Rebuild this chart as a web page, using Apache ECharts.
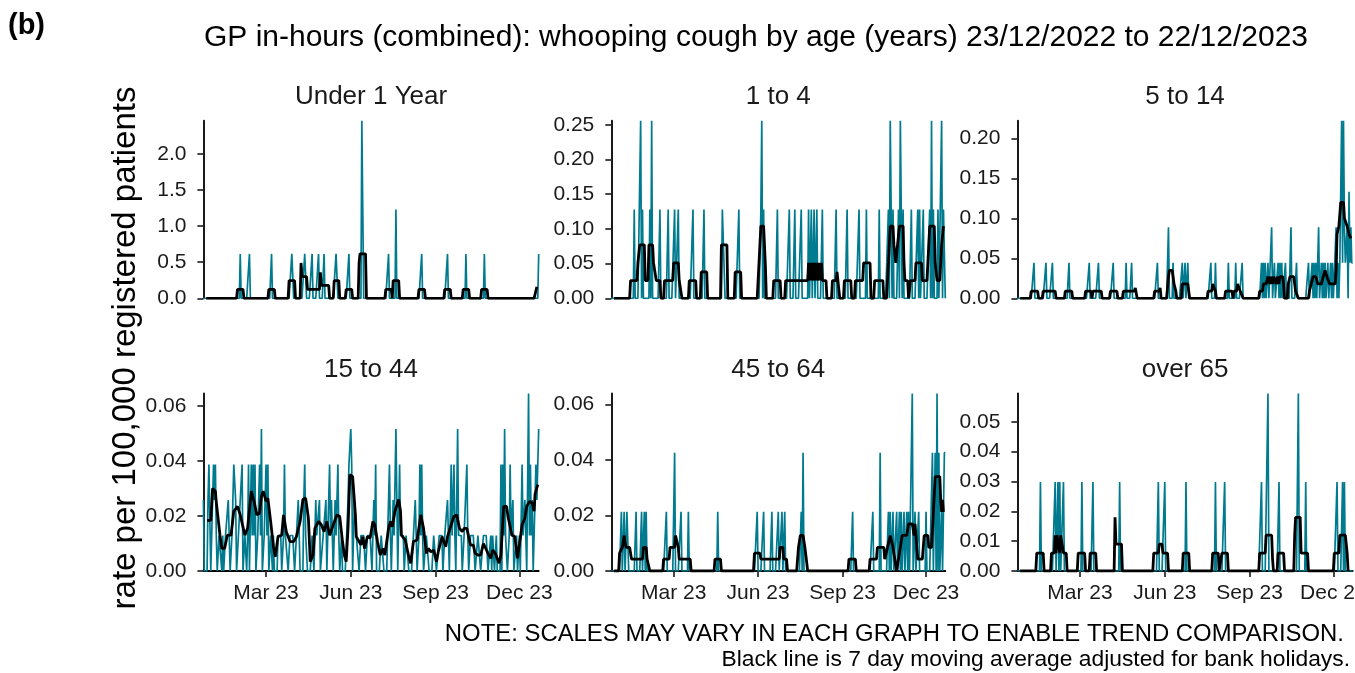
<!DOCTYPE html>
<html>
<head>
<meta charset="utf-8">
<script src="https://cdn.jsdelivr.net/npm/echarts@6/dist/echarts.min.js"></script>
<style>
  html, body { margin: 0; padding: 0; background: #ffffff; }
  #chart { width: 1355px; height: 673px; }
</style>
</head>
<body>
<div id="chart"></div>
<script>
// GP in-hours whooping cough consultations, rate per 100,000 registered patients.
// Day 0 = 23/12/2022, day 364 = 22/12/2023.
// Daily rates: only days with a non-zero rate are listed, as [day, rate].
// Moving averages: [day, rate] vertices of the 7 day average line.

const panelTitles = ['Under 1 Year', '1 to 4', '5 to 14', '15 to 44', '45 to 64', 'over 65'];

const xTickDays = [68, 160, 252, 343];
const xTickLabels = ['Mar 23', 'Jun 23', 'Sep 23', 'Dec 23'];

const yTicksUnder1 = [0, 0.5, 1.0, 1.5, 2.0];
const yTicks1to4 = [0, 0.05, 0.10, 0.15, 0.20, 0.25];
const yTicks5to14 = [0, 0.05, 0.10, 0.15, 0.20];
const yTicks15to44 = [0, 0.02, 0.04, 0.06];
const yTicks45to64 = [0, 0.02, 0.04, 0.06];
const yTicksOver65 = [0, 0.01, 0.02, 0.03, 0.04, 0.05];

const under1Daily = [
  [40,0.615],[50,0.615],[74,0.615],[96,0.615],[97,0.615],[110,0.615],[111,0.615],[118,0.615],
  [125,0.615],[131,0.615],[144,0.615],[145,0.615],[158,0.615],[172,2.46],[173,1.23],[201,0.615],
  [209,1.23],[237,0.615],[265,0.615],[285,0.615],[305,0.615],[364,0.615]
];
const under1Avg = [
  [3,0],[36,0],[37,0.123],[43,0.123],[44,0],[70,0],[71,0.123],[77,0.123],[78,0],
  [92,0],[93,0.246],[99,0.246],[100,0],[105,0],[106,0.49],[107,0.3],[112,0.3],[113,0.123],
  [126,0.123],[127,0.36],[128,0.18],[136,0.18],[137,0],[141,0],[142,0.246],[147,0.246],[148,0],
  [154,0],[155,0.123],[161,0.123],[162,0],[168,0],[169,0.49],[170,0.615],[176,0.615],[177,0],
  [197,0],[198,0.123],[204,0.123],[205,0],[206,0.246],[212,0.246],[213,0],
  [233,0],[234,0.123],[240,0.123],[241,0],[261,0],[262,0.123],[268,0.123],[269,0],
  [281,0],[282,0.123],[288,0.123],[289,0],[301,0],[302,0.123],[308,0.123],[309,0],
  [359,0],[362,0.16]
];

const age1to4Daily = [
  [25,0.128],[32,0.256],[34,0.128],[42,0.128],[44,0.256],[53,0.128],[62,0.128],[69,0.128],
  [73,0.128],[89,0.128],[101,0.128],[121,0.128],[122,0.128],[123,0.128],[139,0.128],[163,0.128],
  [164,0.256],[166,0.128],[181,0.128],[194,0.128],[200,0.128],[207,0.128],[215,0.128],[218,0.128],
  [221,0.128],[224,0.128],[230,0.128],[245,0.128],[257,0.128],[270,0.128],[278,0.128],[292,0.128],
  [302,0.128],[304,0.256],[305,0.128],[307,0.128],[313,0.128],[315,0.256],[316,0.128],[318,0.128],
  [327,0.128],[334,0.128],[336,0.128],[340,0.128],[347,0.128],[349,0.256],[351,0.128],[356,0.128],
  [360,0.256],[362,0.128],[363,0.128]
];
const age1to4Avg = [
  [3,0],[20,0],[21,0.0256],[28,0.0256],[29,0.051],[31,0.077],[36,0.077],[37,0.0256],[40,0.0256],
  [41,0.077],[45,0.077],[46,0.051],[48,0.051],[49,0.0256],[53,0.0256],[54,0],[57,0],[58,0.0256],
  [67,0.0256],[68,0.051],[73,0.051],[74,0.0256],[76,0.0256],[77,0],[84,0],[85,0.0256],[92,0.0256],
  [93,0],[97,0],[98,0.038],[104,0.038],[105,0],[119,0],[120,0.077],[126,0.077],[127,0],
  [134,0],[135,0.038],[141,0.038],[142,0],[159,0],[163,0.104],[166,0.104],[168,0.045],[169,0],
  [176,0],[177,0.0256],[184,0.0256],[185,0],[189,0],[190,0.0256],[214,0.0256],[215,0.051],
  [216,0.0256],[217,0.051],[218,0.0256],[219,0.051],[220,0.051],[221,0.0256],[222,0.051],
  [223,0.0256],[224,0.051],[225,0.051],[226,0.0256],[227,0.051],[228,0.0256],[229,0.051],
  [230,0.0256],[234,0.0256],[235,0],[240,0],[241,0.0256],[245,0.0256],[246,0.038],[248,0.038],
  [249,0],[253,0],[254,0.0256],[261,0.0256],[262,0],[265,0],[266,0.0256],[274,0.0256],
  [275,0.051],[282,0.051],[283,0],[286,0],[287,0.0256],[296,0.0256],[297,0],[300,0],
  [301,0.0256],[302,0.051],[304,0.104],[307,0.104],[308,0.077],[310,0.051],[312,0.051],
  [314,0.104],[318,0.104],[319,0.051],[320,0.0256],[323,0.0256],[324,0],[325,0],[326,0.0256],
  [331,0.0256],[332,0.051],[338,0.051],[339,0.0256],[344,0.0256],[345,0.051],[347,0.104],
  [352,0.104],[353,0.051],[355,0.0256],[358,0.0256],[359,0.051],[360,0.077],[362,0.104]
];

const age5to14Daily = [
  [18,0.0444],[31,0.0444],[38,0.0444],[56,0.0444],[78,0.0444],[88,0.0444],[104,0.0444],
  [118,0.0444],[124,0.0444],[152,0.0444],[164,0.0888],[169,0.0444],[179,0.0444],[182,0.0444],
  [185,0.0444],[210,0.0444],[215,0.0444],[229,0.0444],[237,0.0444],[244,0.0444],[265,0.0444],
  [267,0.0444],[269,0.0444],[272,0.0444],[276,0.0888],[279,0.0444],[283,0.0444],[285,0.0444],
  [287,0.0444],[291,0.0444],[297,0.0888],[303,0.0444],[316,0.0444],[320,0.0444],[322,0.0444],
  [324,0.0444],[327,0.0888],[330,0.0444],[332,0.0444],[334,0.0444],[337,0.0444],[340,0.0444],
  [342,0.0444],[346,0.0888],[348,0.0444],[350,0.0444],[351,0.0444],[352,0.222],[353,0.0444],
  [354,0.222],[355,0.0888],[356,0.0444],[357,0.0444],[358,0.0888],[360,0.1332],[361,0.0444],
  [362,0.0888],[363,0.0444],[364,0.0444]
];
const age5to14Avg = [
  [3,0],[14,0],[15,0.0089],[22,0.0089],[23,0],[27,0],[28,0.0089],[41,0.0089],[42,0],
  [51,0],[52,0.0089],[59,0.0089],[60,0],[73,0],[74,0.0089],[80,0.0089],[81,0],[82,0.0089],
  [91,0.0089],[92,0],[100,0],[101,0.0089],[108,0.0089],[109,0],[114,0],[115,0.0089],
  [127,0.0089],[128,0.013],[129,0.013],[130,0],[148,0],[149,0.0089],[154,0.0089],[155,0.013],
  [156,0],[162,0],[164,0.027],[165,0.035],[168,0.035],[170,0.018],[172,0.009],[173,0],
  [178,0],[179,0.018],[185,0.018],[186,0.0089],[187,0],[206,0],[207,0.0089],[211,0.0089],
  [212,0.018],[214,0.018],[215,0.0089],[216,0],[225,0],[226,0.0089],[233,0.0089],[234,0],
  [235,0.0089],[238,0.0089],[239,0.018],[241,0.018],[242,0.0089],[245,0],[262,0],
  [263,0.0089],[266,0.0089],[267,0.018],[270,0.018],[272,0.027],[274,0.018],[275,0.027],
  [277,0.018],[278,0.027],[280,0.027],[281,0.018],[282,0.027],[284,0.018],[285,0.027],
  [288,0.027],[289,0.018],[290,0],[293,0],[294,0.018],[296,0.027],[300,0.027],[302,0.0089],
  [305,0],[316,0],[317,0.0089],[319,0.018],[321,0.027],[324,0.027],[326,0.018],[330,0.018],
  [332,0.027],[334,0.035],[336,0.027],[339,0.018],[345,0.018],[346,0.035],[347,0.08],
  [349,0.09],[351,0.12],[354,0.12],[355,0.1],[357,0.1],[358,0.09],[360,0.08],[362,0.075]
];

const age15to44Daily = [
  [0,0.0258],[5,0.0258],[6,0.0387],[7,0.0387],[11,0.0387],[12,0.0258],[13,0.0387],[14,0.0129],
  [17,0.0129],[18,0.0129],[19,0.0129],[21,0.0129],[24,0.0129],[25,0.0129],[26,0.0129],[27,0.0258],
  [28,0.0129],[31,0.0129],[32,0.0129],[33,0.0387],[34,0.0387],[35,0.0258],[38,0.0129],[39,0.0129],
  [40,0.0258],[41,0.0258],[42,0.0387],[45,0.0129],[46,0.0129],[48,0.0129],[49,0.0387],[52,0.0387],
  [53,0.0129],[54,0.0387],[55,0.0129],[56,0.0387],[59,0.0129],[60,0.0129],[61,0.0387],[62,0.0129],
  [63,0.0516],[66,0.0129],[67,0.0258],[68,0.0387],[69,0.0129],[70,0.0387],[73,0.0129],[74,0.0129],
  [76,0.0129],[81,0.0129],[82,0.0129],[83,0.0129],[84,0.0129],[87,0.0129],[88,0.0387],[89,0.0129],
  [90,0.0129],[91,0.0129],[94,0.0129],[95,0.0129],[96,0.0129],[97,0.0129],[98,0.0129],[101,0.0129],
  [102,0.0129],[103,0.0258],[104,0.0129],[109,0.0258],[110,0.0387],[111,0.0129],[112,0.0129],
  [118,0.0129],[119,0.0129],[122,0.0258],[123,0.0129],[124,0.0129],[125,0.0129],[126,0.0258],
  [130,0.0129],[131,0.0129],[132,0.0129],[133,0.0258],[137,0.0387],[138,0.0129],[139,0.0258],
  [140,0.0129],[143,0.0258],[144,0.0129],[145,0.0129],[146,0.0387],[147,0.0129],[150,0.0129],
  [157,0.0258],[158,0.0387],[159,0.0387],[160,0.0516],[161,0.0387],[164,0.0258],[165,0.0258],
  [166,0.0129],[167,0.0129],[168,0.0129],[171,0.0129],[172,0.0129],[173,0.0129],[174,0.0129],
  [175,0.0129],[178,0.0129],[179,0.0129],[180,0.0129],[181,0.0129],[182,0.0129],[185,0.0258],
  [186,0.0129],[187,0.0387],[193,0.0129],[194,0.0129],[195,0.0129],[200,0.0129],[201,0.0129],
  [202,0.0387],[203,0.0129],[206,0.0258],[207,0.0129],[208,0.0129],[209,0.0516],[210,0.0258],
  [213,0.0387],[214,0.0129],[215,0.0129],[216,0.0129],[217,0.0129],[220,0.0129],[221,0.0129],
  [222,0.0129],[228,0.0129],[229,0.0129],[230,0.0258],[231,0.0129],[234,0.0129],[235,0.0387],
  [236,0.0129],[237,0.0387],[238,0.0129],[242,0.0129],[243,0.0129],[244,0.0129],[250,0.0129],
  [251,0.0129],[252,0.0129],[256,0.0129],[257,0.0129],[258,0.0129],[259,0.0129],[262,0.0129],
  [263,0.0129],[264,0.0129],[265,0.0258],[266,0.0129],[269,0.0387],[270,0.0129],[271,0.0129],
  [272,0.0387],[273,0.0129],[276,0.0516],[277,0.0129],[278,0.0129],[279,0.0129],[280,0.0129],
  [283,0.0129],[284,0.0129],[285,0.0129],[286,0.0387],[287,0.0129],[290,0.0129],[291,0.0129],
  [292,0.0129],[293,0.0129],[294,0.0129],[298,0.0129],[299,0.0129],[300,0.0129],[304,0.0129],
  [305,0.0129],[306,0.0129],[307,0.0129],[308,0.0129],[312,0.0129],[314,0.0129],[315,0.0129],
  [318,0.0129],[323,0.0387],[325,0.0387],[326,0.0129],[327,0.0516],[328,0.0129],[329,0.0129],
  [332,0.0129],[333,0.0387],[334,0.0129],[335,0.0129],[336,0.0258],[340,0.0129],[343,0.0129],
  [346,0.0387],[347,0.0129],[348,0.0129],[349,0.0258],[350,0.0129],[353,0.0645],[354,0.0129],
  [355,0.0387],[356,0.0129],[357,0.0258],[360,0.0258],[361,0.0387],[362,0.0258],[363,0.0387],
  [364,0.0516]
];
const age15to44Avg = [
  [4,0.0184],[8,0.0184],[10,0.030],[13,0.029],[14,0.025],[16,0.0243],[18,0.013],[20,0.0082],
  [23,0.0082],[26,0.013],[30,0.013],[33,0.0217],[37,0.0235],[40,0.0204],[42,0.021],[45,0.013],
  [48,0.0155],[52,0.029],[55,0.0253],[58,0.0204],[61,0.021],[63,0.0271],[65,0.029],[68,0.0253],
  [70,0.0265],[73,0.018],[76,0.0089],[78,0.0052],[81,0.0125],[85,0.013],[87,0.0204],[90,0.0143],
  [94,0.0107],[98,0.0107],[101,0.0125],[105,0.018],[108,0.026],[111,0.0265],[114,0.0192],
  [116,0.0034],[119,0.0058],[121,0.0155],[125,0.018],[128,0.0168],[131,0.0143],[134,0.018],
  [137,0.013],[141,0.0168],[145,0.0204],[148,0.0198],[151,0.0107],[153,0.0058],[155,0.0034],
  [157,0.0155],[159,0.035],[162,0.0343],[165,0.0204],[166,0.0125],[168,0.0125],[171,0.0095],
  [173,0.0125],[175,0.0082],[178,0.0125],[181,0.012],[184,0.018],[186,0.0168],[189,0.0107],
  [192,0.0058],[195,0.0082],[197,0.0058],[201,0.0155],[203,0.018],[205,0.0161],[208,0.0217],
  [212,0.026],[214,0.0217],[215,0.013],[219,0.0113],[223,0.0052],[225,0.0028],[228,0.0107],
  [232,0.0113],[235,0.018],[236,0.0204],[239,0.0155],[242,0.0064],[244,0.0082],[247,0.007],
  [250,0.0076],[253,0.0034],[255,0.007],[259,0.0125],[263,0.0088],[265,0.0125],[269,0.0168],
  [272,0.0198],[275,0.0204],[278,0.0155],[281,0.0143],[283,0.0155],[286,0.0155],[290,0.0094],
  [293,0.0094],[295,0.0064],[298,0.0058],[301,0.0058],[304,0.01],[306,0.01],[309,0.0064],
  [312,0.0046],[314,0.0076],[317,0.0064],[321,0.0028],[323,0.0058],[326,0.0235],[329,0.0235],
  [331,0.0192],[335,0.013],[338,0.0125],[341,0.0046],[343,0.0046],[346,0.0168],[349,0.0192],
  [351,0.0235],[354,0.0253],[357,0.0247],[359,0.0217],[360,0.0278],[363,0.0314]
];

const age45to64Daily = [
  [11,0.0213],[14,0.0213],[17,0.0213],[18,0.0213],[27,0.0213],[33,0.0213],[36,0.0213],[38,0.0213],
  [60,0.0213],[69,0.0426],[76,0.0213],[84,0.0213],[116,0.0213],[159,0.0213],[166,0.0213],
  [175,0.0213],[182,0.0213],[186,0.0213],[189,0.0213],[207,0.0213],[209,0.0426],[263,0.0213],
  [285,0.0213],[293,0.0426],[302,0.0213],[304,0.0213],[307,0.0213],[311,0.0213],[314,0.0213],
  [316,0.0213],[319,0.0213],[322,0.0213],[324,0.0213],[328,0.0639],[331,0.0213],[335,0.0213],
  [343,0.0213],[350,0.0426],[353,0.0426],[355,0.0639],[357,0.0426],[360,0.0213],[363,0.0426],
  [364,0.0426]
];
const age45to64Avg = [
  [3,0],[8,0],[9,0.0064],[12,0.0085],[14,0.0128],[16,0.0085],[20,0.0085],[22,0.0043],[34,0.0043],
  [35,0.0085],[38,0.0085],[39,0.0043],[41,0.0043],[42,0],[56,0],[57,0.0043],[63,0.0043],
  [64,0.0085],[69,0.0085],[70,0.0128],[72,0.0128],[73,0.0085],[74,0.0043],[86,0.0043],[87,0],
  [112,0],[113,0.0043],[119,0.0043],[120,0],[155,0],[156,0.0064],[162,0.0064],[163,0.0043],
  [183,0.0043],[184,0.0085],[187,0.0085],[188,0.0043],[191,0.0043],[192,0],[202,0],
  [204,0.0085],[206,0.0128],[209,0.0128],[211,0.0085],[213,0.003],[214,0],[258,0],
  [259,0.0043],[266,0.0043],[267,0],[281,0],[282,0.0043],[289,0.0043],[290,0.0085],
  [297,0.0085],[298,0.0043],[300,0.0043],[301,0.0085],[303,0.0085],[304,0.0128],[306,0.0128],
  [307,0.0085],[309,0.0043],[311,0],[313,0.0043],[315,0.0085],[317,0.0128],[322,0.0128],
  [324,0.017],[328,0.017],[330,0.0128],[331,0.017],[333,0.017],[334,0.0043],[339,0.0043],
  [340,0.0085],[341,0.0128],[345,0.0128],[346,0.0085],[349,0.0085],[351,0.0213],[353,0.034],
  [358,0.034],[359,0.0256],[360,0.0213],[361,0.0256],[362,0.0213]
];

const over65Daily = [
  [25,0.0298],[41,0.0298],[44,0.0298],[46,0.0298],[50,0.0298],[70,0.0298],[82,0.0298],
  [111,0.0298],[153,0.0298],[160,0.0298],[183,0.0298],[215,0.0298],[225,0.0298],[265,0.0298],
  [272,0.0595],[284,0.0298],[305,0.0595],[313,0.0298],[347,0.0298],[353,0.0298],[355,0.0298]
];
const over65Avg = [
  [3,0],[20,0],[21,0.006],[28,0.006],[29,0],[36,0],[37,0.006],[40,0.006],[41,0.012],[42,0.006],
  [43,0.012],[45,0.012],[46,0.006],[47,0.012],[49,0.012],[50,0.006],[53,0.006],[54,0],
  [65,0],[66,0.006],[73,0.006],[74,0],[78,0],[79,0.006],[85,0.006],[86,0],[105,0],
  [106,0.018],[107,0.009],[113,0.009],[114,0],[147,0],[148,0.006],[153,0.006],[154,0.009],
  [157,0.009],[158,0.006],[163,0.006],[164,0],[179,0],[180,0.006],[186,0.006],[187,0],
  [211,0],[212,0.006],[218,0.006],[219,0],[221,0],[222,0.006],[228,0.006],[229,0],
  [262,0],[263,0.006],[269,0.006],[270,0.012],[276,0.012],[277,0.004],[278,0],[282,0],
  [283,0.006],[289,0.006],[290,0],[300,0],[301,0.012],[302,0.018],[307,0.018],[308,0.006],
  [315,0.006],[316,0],[343,0],[344,0.006],[349,0.006],[350,0.012],[356,0.012],[358,0.006],[359,0]
];

const DAYS = 365;
const TEAL = '#007a8e';
const FONT = '"Liberation Sans", Arial, sans-serif';

const panels = [
  { title: panelTitles[0], daily: under1Daily, avg: under1Avg, ticks: yTicksUnder1, dec: 1 },
  { title: panelTitles[1], daily: age1to4Daily, avg: age1to4Avg, ticks: yTicks1to4, dec: 2 },
  { title: panelTitles[2], daily: age5to14Daily, avg: age5to14Avg, ticks: yTicks5to14, dec: 2 },
  { title: panelTitles[3], daily: age15to44Daily, avg: age15to44Avg, ticks: yTicks15to44, dec: 2 },
  { title: panelTitles[4], daily: age45to64Daily, avg: age45to64Avg, ticks: yTicks45to64, dec: 2 },
  { title: panelTitles[5], daily: over65Daily, avg: over65Avg, ticks: yTicksOver65, dec: 2 }
];

// facet layout (pixels)
const cols = [ { left: 203.4, width: 335.3 }, { left: 611.3, width: 334.0 }, { left: 1017.4, width: 335.3 } ];
const rows = [ { top: 120.7, height: 177.6 }, { top: 393.5, height: 177.5 } ];

// one point per day; days not listed had no consultations
function dailySeries(pairs) {
  const out = [];
  for (let d = 0; d < DAYS; d++) out.push([d, 0]);
  pairs.forEach(([d, v]) => { out[d][1] = v; });
  return out;
}

const grid = [], xAxis = [], yAxis = [], series = [], graphic = [];

panels.forEach((p, i) => {
  const c = cols[i % 3], r = rows[Math.floor(i / 3)];
  const bottomRow = i >= 3;
  grid.push({ left: c.left, top: r.top, width: c.width, height: r.height,
              containLabel: false, outerBoundsMode: 'none' });
  xAxis.push({
    type: 'value', gridIndex: i, min: 0, max: DAYS - 1,
    show: true,
    axisLine: { show: bottomRow, onZero: false, lineStyle: { color: '#000', width: 1.8 } },
    axisTick: { show: bottomRow, customValues: xTickDays, length: 6, lineStyle: { color: '#333', width: 1.8 } },
    axisLabel: {
      show: bottomRow, customValues: xTickDays, margin: 12,
      formatter: v => xTickLabels[xTickDays.indexOf(v)],
      fontSize: 21, color: '#1a1a1a', fontFamily: FONT
    },
    splitLine: { show: false }
  });
  const maxRate = Math.max(...p.daily.map(d => d[1]));
  yAxis.push({
    type: 'value', gridIndex: i, min: 0, max: maxRate,
    axisLine: { show: true, onZero: false, lineStyle: { color: '#000', width: 1.8 } },
    axisTick: { show: true, customValues: p.ticks, length: 6, lineStyle: { color: '#333', width: 1.8 } },
    axisLabel: {
      customValues: p.ticks, margin: 17,
      formatter: v => v.toFixed(p.dec),
      fontSize: 21, color: '#1a1a1a', fontFamily: FONT
    },
    splitLine: { show: false }
  });
  series.push({
    type: 'line', xAxisIndex: i, yAxisIndex: i, data: dailySeries(p.daily),
    symbol: 'none', lineStyle: { color: TEAL, width: 1.7 }, z: 2, silent: true
  });
  series.push({
    type: 'line', xAxisIndex: i, yAxisIndex: i, data: p.avg,
    symbol: 'none', lineStyle: { color: '#000', width: 2.8 }, z: 3, silent: true
  });
  graphic.push({
    type: 'text', x: c.left + c.width / 2, y: bottomRow ? 370 : 97,
    style: { text: p.title, font: '26px ' + FONT, fill: '#1a1a1a', textAlign: 'center', textVerticalAlign: 'middle' }
  });
});

graphic.push(
  { type: 'text', x: 8, y: 26,
    style: { text: '(b)', font: 'bold 29px ' + FONT, fill: '#000', textAlign: 'left', textVerticalAlign: 'middle' } },
  { type: 'text', x: 756, y: 38,
    style: { text: 'GP in-hours (combined): whooping cough by age (years) 23/12/2022 to 22/12/2023',
             font: '30px ' + FONT, fill: '#000', textAlign: 'center', textVerticalAlign: 'middle' } },
  { type: 'text', x: 126, y: 348, rotation: Math.PI / 2,
    style: { text: 'rate per 100,000 registered patients', font: '33px ' + FONT, fill: '#000',
             textAlign: 'center', textVerticalAlign: 'middle' } },
  { type: 'text', x: 1344, y: 634,
    style: { text: 'NOTE: SCALES MAY VARY IN EACH GRAPH TO ENABLE TREND COMPARISON.',
             font: '23.9px ' + FONT, fill: '#000', textAlign: 'right', textVerticalAlign: 'middle' } },
  { type: 'text', x: 1350, y: 660,
    style: { text: 'Black line is 7 day moving average adjusted for bank holidays.',
             font: '22.8px ' + FONT, fill: '#000', textAlign: 'right', textVerticalAlign: 'middle' } }
);

const chart = echarts.init(document.getElementById('chart'), null, { renderer: 'canvas' });
chart.setOption({
  animation: false,
  backgroundColor: '#ffffff',
  grid, xAxis, yAxis, series, graphic
});
</script>
</body>
</html>
